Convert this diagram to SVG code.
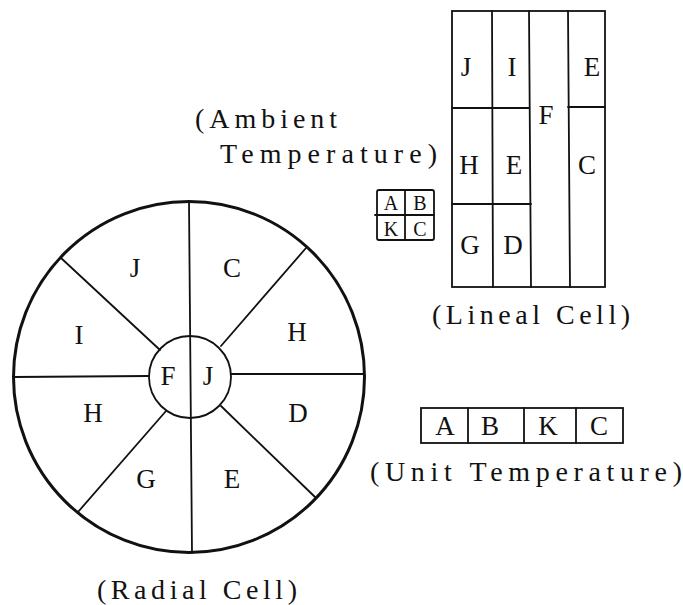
<svg xmlns="http://www.w3.org/2000/svg" width="683" height="605" viewBox="0 0 683 605">
  <style>
    .ln { stroke: #111; fill: none; stroke-width: 1.8; stroke-linecap: round; }
    .rim { stroke: #111; fill: none; stroke-width: 3; }
    .lbl { font-family: "Liberation Serif", "DejaVu Serif", serif; font-size: 27px; fill: #111; text-anchor: middle; }
    .sm { font-size: 20px; }
    .cap { font-family: "Liberation Serif", "DejaVu Serif", serif; font-size: 28px; fill: #111; }
  </style>
  <rect width="683" height="605" fill="#fff"/>

  <!-- Radial cell: outer ring, inner core and eight sectors -->
  <g id="radial-cell">
    <circle class="rim" cx="189" cy="377" r="175.5"/>
    <circle class="ln" cx="190" cy="377" r="41" stroke-width="2.2"/>
    <line class="ln" x1="189" y1="202" x2="192" y2="553"/>
    <line class="ln" x1="14" y1="377" x2="149" y2="376"/>
    <line class="ln" x1="231" y1="374" x2="363" y2="374"/>
    <line class="ln" x1="61" y1="258" x2="160" y2="350"/>
    <line class="ln" x1="306" y1="248" x2="221" y2="346"/>
    <line class="ln" x1="78" y1="512" x2="166" y2="411"/>
    <line class="ln" x1="315" y1="497" x2="221" y2="406"/>
    <text class="lbl" x="135" y="277">J</text>
    <text class="lbl" x="232" y="277">C</text>
    <text class="lbl" x="79" y="344">I</text>
    <text class="lbl" x="297" y="341">H</text>
    <text class="lbl" x="168" y="385">F</text>
    <text class="lbl" x="208" y="385">J</text>
    <text class="lbl" x="93" y="422">H</text>
    <text class="lbl" x="298" y="422">D</text>
    <text class="lbl" x="146" y="488">G</text>
    <text class="lbl" x="232" y="488">E</text>
  </g>
  <text id="radial-caption" class="cap" x="97" y="599" textLength="200" lengthAdjust="spacing">(Radial Cell)</text>

  <!-- Lineal cell: four columns of stacked compartments -->
  <g id="lineal-cell">
    <rect class="ln" x="452" y="11" width="153" height="276"/>
    <line class="ln" x1="492" y1="11" x2="493" y2="287"/>
    <line class="ln" x1="529" y1="11" x2="531" y2="287"/>
    <line class="ln" x1="568" y1="11" x2="570" y2="287"/>
    <line class="ln" x1="452" y1="108" x2="529" y2="108"/>
    <line class="ln" x1="452" y1="204" x2="531" y2="204"/>
    <line class="ln" x1="568" y1="107" x2="605" y2="107"/>
    <text class="lbl" x="466" y="76">J</text>
    <text class="lbl" x="512" y="76">I</text>
    <text class="lbl" x="592" y="76">E</text>
    <text class="lbl" x="546" y="124">F</text>
    <text class="lbl" x="469" y="174">H</text>
    <text class="lbl" x="514" y="174">E</text>
    <text class="lbl" x="587" y="174">C</text>
    <text class="lbl" x="470" y="254">G</text>
    <text class="lbl" x="513" y="254">D</text>
  </g>
  <text id="lineal-caption" class="cap" x="432" y="324" textLength="198" lengthAdjust="spacing">(Lineal Cell)</text>

  <!-- Ambient temperature block -->
  <g id="ambient-block">
    <rect class="ln" x="377" y="190" width="57" height="50" rx="2"/>
    <line class="ln" x1="405" y1="190" x2="405" y2="240"/>
    <line class="ln" x1="375" y1="215" x2="434" y2="215"/>
    <text class="lbl sm" x="391" y="210">A</text>
    <text class="lbl sm" x="420" y="210">B</text>
    <text class="lbl sm" x="391" y="236">K</text>
    <text class="lbl sm" x="420" y="236">C</text>
  </g>
  <text id="ambient-caption-1" class="cap" x="195" y="128" textLength="142" lengthAdjust="spacing">(Ambient</text>
  <text id="ambient-caption-2" class="cap" x="220" y="163" textLength="217" lengthAdjust="spacing">Temperature)</text>

  <!-- Unit temperature strip -->
  <g id="unit-block">
    <rect class="ln" x="421" y="408" width="202" height="35"/>
    <line class="ln" x1="468" y1="408" x2="468" y2="443"/>
    <line class="ln" x1="524" y1="408" x2="524" y2="443"/>
    <line class="ln" x1="576" y1="408" x2="576" y2="443"/>
    <text class="lbl" x="445" y="435">A</text>
    <text class="lbl" x="490" y="435">B</text>
    <text class="lbl" x="548" y="435">K</text>
    <text class="lbl" x="599" y="435">C</text>
  </g>
  <text id="unit-caption" class="cap" x="370" y="481" textLength="312" lengthAdjust="spacing">(Unit Temperature)</text>
</svg>
